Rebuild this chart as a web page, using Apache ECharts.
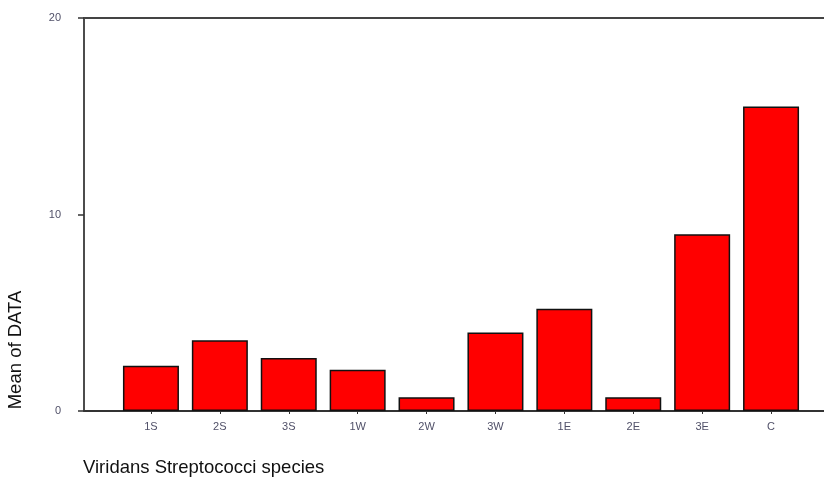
<!DOCTYPE html>
<html><head><meta charset="utf-8">
<script src="https://cdn.jsdelivr.net/npm/echarts@6/dist/echarts.min.js"></script>
<style>html,body{margin:0;padding:0;background:#fff}#c{width:824px;height:477px}</style>
</head><body><div id="c"></div>
<script>
const categories = ['1S','2S','3S','1W','2W','3W','1E','2E','3E','C'];
const values = [2.3, 3.6, 2.7, 2.1, 0.7, 4.0, 5.2, 0.7, 9.0, 15.5];
const yTicks = [0, 10, 20];
const xTitle = 'Viridans Streptococci species';
const yTitle = 'Mean of DATA';

const chart = echarts.init(document.getElementById('c'), null, {renderer:'canvas'});
const font = 'Liberation Sans, Arial, sans-serif';
chart.setOption({
  animation: false,
  grid: [
    {left: 116.5, right: 18.5, top: 18, bottom: 66},
    {left: 84, right: 0, top: 18, bottom: 66}
  ],
  xAxis: [
    {gridIndex: 0, type: 'category', data: categories, boundaryGap: true,
     axisLine: {show: false},
     axisTick: {show: true, alignWithLabel: true, length: 3, lineStyle: {color: '#333', width: 1}},
     axisLabel: {color: '#505068', fontSize: 11, fontFamily: font, margin: 10}},
    {gridIndex: 1, type: 'value', min: 0, max: 1, position: 'bottom',
     axisLine: {show: true, onZero: false, lineStyle: {color: '#333', width: 2}},
     axisTick: {show: false}, axisLabel: {show: false}, splitLine: {show: false}},
    {gridIndex: 1, type: 'value', min: 0, max: 1, position: 'top',
     axisLine: {show: true, onZero: false, lineStyle: {color: '#444', width: 2}},
     axisTick: {show: false}, axisLabel: {show: false}, splitLine: {show: false}}
  ],
  yAxis: [
    {gridIndex: 0, type: 'value', min: 0, max: 20, interval: 10, show: false},
    {gridIndex: 1, type: 'value', min: yTicks[0], max: yTicks[yTicks.length-1], interval: 10,
     axisLine: {show: true, lineStyle: {color: '#111', width: 1.5}},
     axisTick: {show: true, length: 6, lineStyle: {color: '#333', width: 1.5}},
     axisLabel: {color: '#505068', fontSize: 11, fontFamily: font, margin: 23, align: 'right'},
     splitLine: {show: false}}
  ],
  series: [{
    type: 'bar', xAxisIndex: 0, yAxisIndex: 0, data: values, barWidth: 56,
    itemStyle: {color: '#ff0000', borderColor: '#111', borderWidth: 1.5}
  }],
  graphic: [
    {type: 'text', x: 16, y: 350, rotation: Math.PI/2,
     style: {text: yTitle, fill: '#111', font: '18.5px ' + font, align: 'center', verticalAlign: 'middle'}},
    {type: 'text', x: 83, y: 468,
     style: {text: xTitle, fill: '#111', font: '18.5px ' + font, align: 'left', verticalAlign: 'middle'}}
  ]
});
</script></body></html>
